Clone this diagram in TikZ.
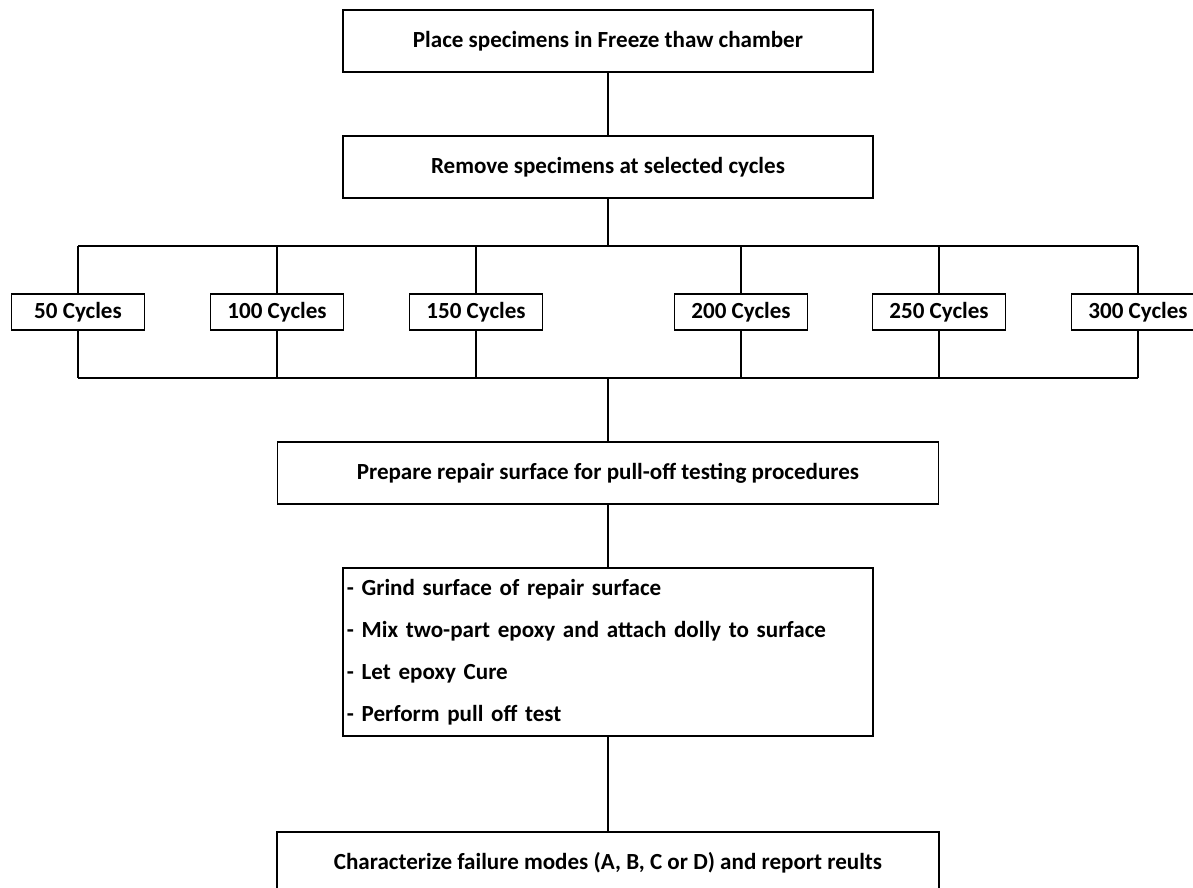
\documentclass[tikz,border=0pt]{standalone}
\usepackage{fontspec}
\setmainfont{Carlito}
\usepackage{tikz}
\tikzset{
  stagebox/.style={draw,line width=1.1pt,minimum height=1.55cm,inner sep=0pt},
  cyclebox/.style={draw,line width=1.1pt,minimum width=3.325cm,minimum height=0.9cm,inner sep=0pt},
  link/.style={line width=0.8pt}
}

\begin{document}
\begin{tikzpicture}[x=0.025cm,y=-0.025cm,font=\fontsize{16.4}{29.9}\selectfont\bfseries]
            \clip (0,0) rectangle (1193,888);
            \node[stagebox,minimum width=13.25cm] (place) at (608,41) {Place specimens in Freeze thaw chamber};
            \node[stagebox,minimum width=13.25cm] (remove) at (608,167) {Remove specimens at selected cycles};
            \coordinate (topmid) at (608,246);
            \coordinate (topleft) at (78,246);
            \coordinate (topright) at (1138,246);
            \coordinate (botmid) at (608,378);
            \coordinate (botleft) at (78,378);
            \coordinate (botright) at (1138,378);
            \draw[link] (place) -- (remove);
            \draw[link] (remove) -- (topmid);
            \draw[link] (topleft) -- (topright);
            \draw[link] (botleft) -- (botright);
            \foreach \n/\x in {50/78,100/277,150/476,200/741,250/939,300/1138} {
              \node[cyclebox] (c\n) at (\x,312) {\n\ Cycles};
              \draw[link] (c\n.north) -- (c\n.north |- topleft);
              \draw[link] (c\n.south) -- (c\n.south |- botleft);
            }
            \node[stagebox,minimum width=16.525cm] (prepare) at (608,473) {Prepare repair surface for pull-off testing procedures};
            \node[draw,line width=1.1pt,inner xsep=0.1cm,inner ysep=0pt,text width=13.05cm,minimum height=4.2cm,align=left] (steps) at (608,652)
              {- Grind surface of repair surface\\
               - Mix two-part epoxy and attach dolly to surface\\
               - Let epoxy Cure\\
               - Perform pull off test};
            \node[stagebox,minimum width=16.55cm] (report) at (608,863) {Characterize failure modes (A, B, C or D) and report reults};
            \draw[link] (botmid) -- (prepare);
            \draw[link] (prepare) -- (steps);
            \draw[link] (steps) -- (report);
\end{tikzpicture}
\end{document}
